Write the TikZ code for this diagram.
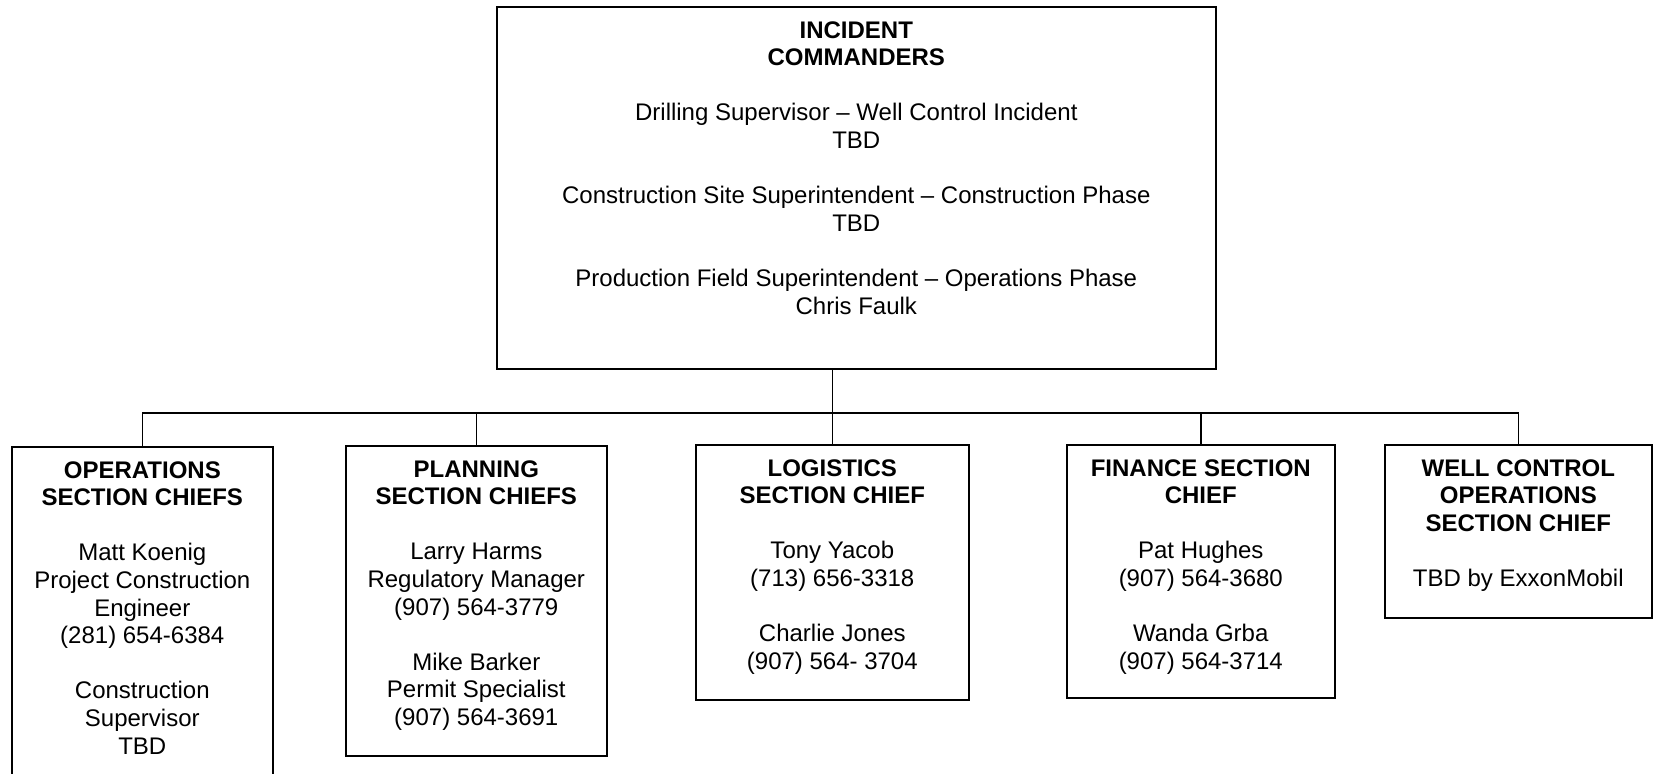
\documentclass[tikz,border=0pt]{standalone}
\usepackage{fontspec}
\setmainfont{Liberation Sans}
\usetikzlibrary{positioning}

\begin{document}
\begin{tikzpicture}[x=0.5pt, y=-0.5pt,
    chiefbox/.style={rectangle, draw=black, line width=0.8pt, anchor=north west, inner sep=0pt},
    chieftext/.style={align=center, inner sep=0pt, font=\fontsize{12}{13.8}\selectfont},
    link/.style={draw=black, line width=0.8pt}]
    \clip (0,0) rectangle (1654,773);

    % commanders on top
    \node[chiefbox, minimum width=359.5pt, minimum height=181pt] (ic) at (496,6) {};
    \node[chieftext, below=7.5pt of ic.north] (ictext) {\textbf{INCIDENT}\\ \textbf{COMMANDERS}\\[13.8pt]
        Drilling Supervisor – Well Control Incident\\ TBD\\[13.8pt]
        Construction Site Superintendent – Construction Phase\\ TBD\\[13.8pt]
        Production Field Superintendent – Operations Phase\\ Chris Faulk};

    % section chiefs
    \node[chiefbox, minimum width=130.5pt, minimum height=200pt] (ops) at (11,446) {};
    \node[chieftext, below=7.5pt of ops.north] (opstext) {\textbf{OPERATIONS}\\ \textbf{SECTION CHIEFS}\\[13.8pt]
        Matt Koenig\\ Project Construction\\ Engineer\\ (281) 654-6384\\[13.8pt]
        Construction\\ Supervisor\\ TBD};

    \node[chiefbox, minimum width=130.5pt, minimum height=155pt] (plan) at (345,445) {};
    \node[chieftext, below=7.5pt of plan.north] (plantext) {\textbf{PLANNING}\\ \textbf{SECTION CHIEFS}\\[13.8pt]
        Larry Harms\\ Regulatory Manager\\ (907) 564-3779\\[13.8pt]
        Mike Barker\\ Permit Specialist\\ (907) 564-3691};

    \node[chiefbox, minimum width=136.5pt, minimum height=127.5pt] (log) at (695,444) {};
    \node[chieftext, below=7.5pt of log.north] (logtext) {\textbf{LOGISTICS}\\ \textbf{SECTION CHIEF}\\[13.8pt]
        Tony Yacob\\ (713) 656-3318\\[13.8pt]
        Charlie Jones\\ (907) 564- 3704};

    \node[chiefbox, minimum width=134pt, minimum height=126.5pt] (fin) at (1066,444) {};
    \node[chieftext, below=7.5pt of fin.north] (fintext) {\textbf{FINANCE SECTION}\\ \textbf{CHIEF}\\[13.8pt]
        Pat Hughes\\ (907) 564-3680\\[13.8pt]
        Wanda Grba\\ (907) 564-3714};

    \node[chiefbox, minimum width=133.5pt, minimum height=86.5pt] (wc) at (1384,444) {};
    \node[chieftext, below=7.5pt of wc.north] (wctext) {\textbf{WELL CONTROL}\\ \textbf{OPERATIONS}\\ \textbf{SECTION CHIEF}\\[13.8pt]
        TBD by ExxonMobil};

    % connectors
    \coordinate (bus) at (832,413);
    \draw[link] (ic.south -| log.north) -- (log.north);
    \draw[link] (ops.north) -- (ops.north |- bus) -- (wc.north |- bus) -- (wc.north);
    \foreach \n in {plan,fin}
        \draw[link] (\n.north) -- (\n.north |- bus);
\end{tikzpicture}
\end{document}
